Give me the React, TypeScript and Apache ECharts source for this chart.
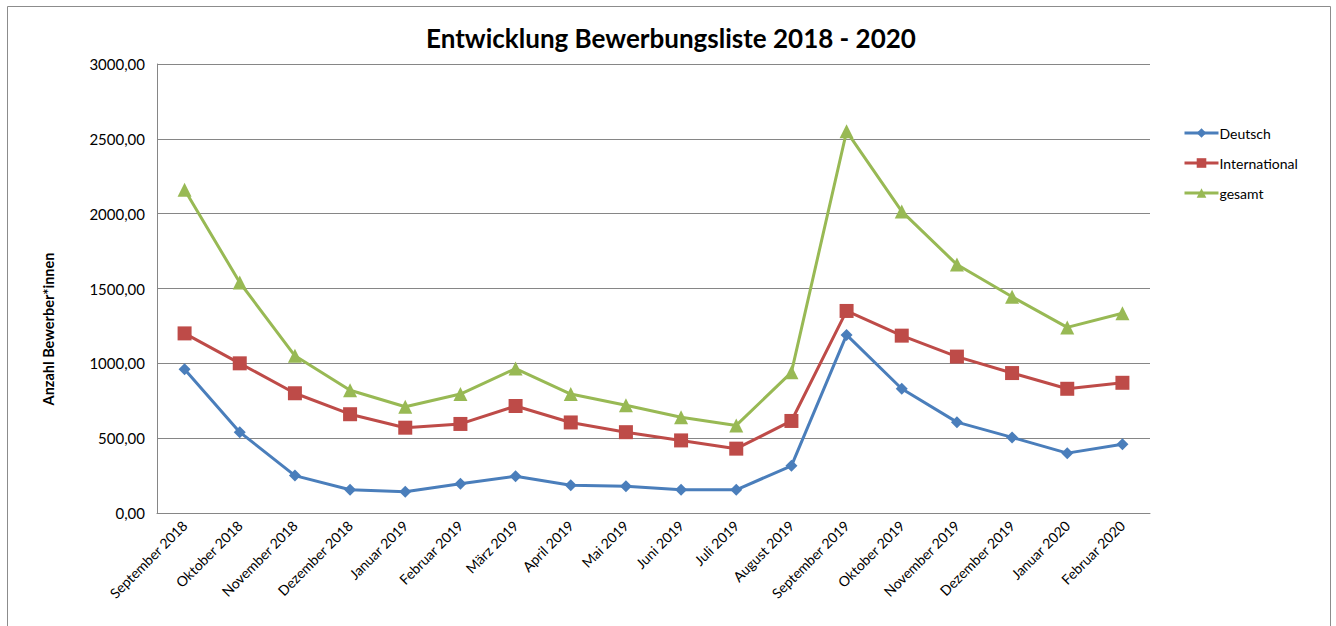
import React, { useEffect, useRef } from "react";
import * as echarts from "echarts";

const categories = [
  "September 2018", "Oktober 2018", "November 2018", "Dezember 2018",
  "Januar 2019", "Februar 2019", "März 2019", "April 2019", "Mai 2019",
  "Juni 2019", "Juli 2019", "August 2019", "September 2019", "Oktober 2019",
  "November 2019", "Dezember 2019", "Januar 2020", "Februar 2020",
];
const deutsch = [960, 540, 250, 155, 142, 195, 245, 185, 178, 155, 155, 315, 1190, 830, 607, 505, 400, 460];
const international = [1200, 1000, 800, 660, 570, 595, 715, 605, 540, 485, 430, 615, 1350, 1185, 1045, 935, 830, 870];
const gesamt = [2160, 1540, 1050, 820, 710, 795, 965, 795, 720, 640, 585, 940, 2550, 2015, 1660, 1445, 1240, 1335];

const FONT = "Lato, 'Open Sans', sans-serif";

export default function App() {
  const ref = useRef<HTMLDivElement>(null);
  useEffect(() => {
    if (!ref.current) return;
    const chart = echarts.init(ref.current, undefined, { renderer: "svg" });
    const mk = (name: string, data: number[], color: string, symbol: string, size: number) => ({
      name,
      type: "line",
      data,
      symbol,
      symbolSize: size,
      lineStyle: { width: 3, color },
      itemStyle: { color },
      z: 3,
    });
    chart.setOption({
      animation: false,
      backgroundColor: "#fff",
      textStyle: { fontFamily: FONT },
      title: {
        text: "Entwicklung Bewerbungsliste 2018 - 2020",
        left: 666,
        textAlign: "center",
        top: 20,
        textStyle: { fontFamily: FONT, fontSize: 26, fontWeight: "bold", color: "#000" },
      },
      graphic: [
        {
          type: "rect",
          shape: { x: 7.5, y: 6.5, width: 1323, height: 640 },
          style: { fill: "none", stroke: "#8c8c8c", lineWidth: 1 },
          silent: true,
        },
        {
          type: "text",
          x: 48,
          y: 329,
          rotation: Math.PI / 2,
          style: {
            text: "Anzahl Bewerber*innen",
            fontFamily: FONT,
            fontSize: 14.5,
            fontWeight: "bold",
            fill: "#000",
            align: "center",
            verticalAlign: "middle",
          },
        },
      ],
      legend: {
        orient: "vertical",
        left: 1178,
        top: 121,
        itemGap: 16,
        itemWidth: 34,
        itemHeight: 12,
        lineStyle: { width: 3 },
        textStyle: { fontFamily: FONT, fontSize: 14, color: "#000", padding: [0, 0, 0, -4] },
        data: ["Deutsch", "International", "gesamt"],
      },
      grid: { left: 157, right: 186, top: 64, bottom: 113 },
      xAxis: {
        type: "category",
        data: categories,
        boundaryGap: true,
        axisLine: { lineStyle: { color: "#868686", width: 1 } },
        axisTick: { show: false },
        axisLabel: {
          rotate: 45,
          interval: 0,
          fontFamily: FONT,
          fontSize: 14,
          color: "#000",
          margin: 10,
        },
      },
      yAxis: {
        type: "value",
        min: 0,
        max: 3000,
        interval: 500,
        axisLine: { show: true, lineStyle: { color: "#868686", width: 1 } },
        axisTick: { show: false },
        splitLine: { lineStyle: { color: "#868686", width: 1 } },
        axisLabel: {
          fontFamily: FONT,
          fontSize: 15,
          color: "#000",
          margin: 12,
          formatter: (v: number) => v.toFixed(2).replace(".", ","),
        },
      },
      series: [
        mk("Deutsch", deutsch, "#4A7EBB", "diamond", 12),
        mk("International", international, "#BE4B48", "rect", 14),
        mk("gesamt", gesamt, "#98B954", "triangle", 14),
      ],
    });
    return () => chart.dispose();
  }, []);
  return (
    <div
      ref={ref}
      style={{ position: "absolute", left: 0, top: 0, width: 1336, height: 626 }}
    />
  );
}
